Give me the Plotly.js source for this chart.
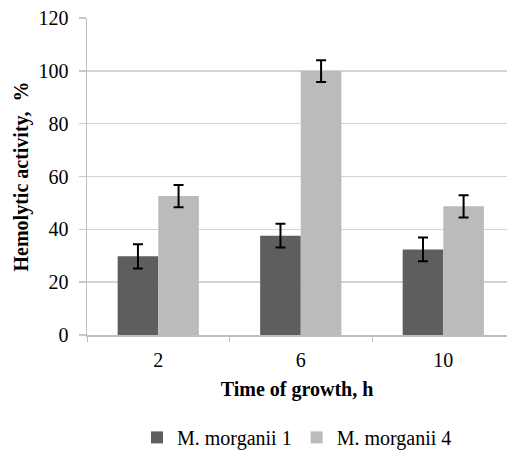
<!DOCTYPE html>
<html>
<head>
<meta charset="utf-8">
<script src="https://cdn.plot.ly/plotly-3.0.1.min.js"></script>
<style>html,body{margin:0;padding:0;background:#fff;}#chart{width:507px;height:452px;}</style>
</head>
<body>
<div id="chart"></div>
<script>
const categories = ["2", "6", "10"];
const seriesNames = ["M. morganii 1", "M. morganii 4"];
const morganii1 = [29.8, 37.6, 32.4];
const morganii1Err = [4.6, 4.5, 4.5];
const morganii4 = [52.6, 99.9, 48.7];
const morganii4Err = [4.2, 4.1, 4.2];
const yTicks = [0, 20, 40, 60, 80, 100, 120];

const font = "Liberation Serif, Times New Roman, serif";

const traces = [
  {
    type: "bar", name: seriesNames[0], x: categories, y: morganii1,
    marker: {color: "#5f5d60"},
    error_y: {type: "data", array: morganii1Err, visible: true, color: "#000", thickness: 2, width: 5}
  },
  {
    type: "bar", name: seriesNames[1], x: categories, y: morganii4,
    marker: {color: "#bcbabd"},
    error_y: {type: "data", array: morganii4Err, visible: true, color: "#000", thickness: 2, width: 5}
  }
];

const layout = {
  width: 507, height: 452,
  margin: {l: 87, r: 0, t: 18, b: 116.5, autoexpand: false},
  paper_bgcolor: "#fff", plot_bgcolor: "#fff",
  font: {family: font, size: 20, color: "#000"},
  barmode: "group", bargap: 0.43, bargroupgap: 0,
  showlegend: true,
  legend: {orientation: "h", x: 0.5, xanchor: "center", y: -0.323, yanchor: "middle",
           font: {family: font, size: 20, color: "#000"}, itemwidth: 30, tracegroupgap: 0},
  xaxis: {
    type: "category", range: [-0.5, 2.447], automargin: false,
    showline: true, linecolor: "#bfbfbf", linewidth: 1.5,
    ticks: "outside", tickson: "boundaries", ticklen: 5, tickcolor: "#bfbfbf", tickwidth: 1,
    tickfont: {family: font, size: 20, color: "#000"},
    ticklabelstandoff: 6,
    showgrid: false, zeroline: false,
    title: {text: "<b>Time of growth, h</b>", font: {family: font, size: 20, color: "#000"}, standoff: 12}
  },
  yaxis: {
    range: [0, 120], tickvals: yTicks, ticktext: yTicks.map(String), automargin: false,
    showline: true, linecolor: "#bfbfbf", linewidth: 1.5,
    ticks: "outside", ticklen: 7, tickcolor: "#c8c8c8", tickwidth: 1.5,
    showgrid: true, gridcolor: "#d3d3d3", gridwidth: 1.5,
    zeroline: false,
    tickfont: {family: font, size: 20, color: "#000"},
    ticklabelstandoff: 6,
    title: {text: "<b>Hemolytic activity,  %</b>", font: {family: font, size: 20, color: "#000"}, standoff: 4}
  }
};

Plotly.newPlot("chart", traces, layout, {displayModeBar: false, staticPlot: true});
</script>
</body>
</html>
